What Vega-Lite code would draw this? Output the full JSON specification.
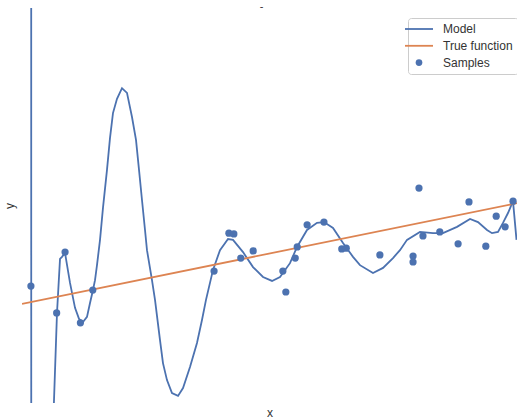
{
  "$schema": "https://vega.github.io/schema/vega-lite/v6.json",
  "width": 495,
  "height": 395,
  "autosize": "none",
  "padding": {"left": 22, "top": 8, "right": 0, "bottom": 16},
  "background": "white",
  "title": {"text": "-", "fontSize": 11, "font": "Liberation Sans", "fontWeight": "normal", "color": "#333", "offset": -4, "dx": -8},
  "config": {
    "view": {"stroke": null},
    "axis": {"domain": false, "ticks": false, "labels": false, "grid": false, "titleFont": "Liberation Sans", "titleFontSize": 12, "titleFontWeight": "normal", "titleColor": "#333"}
  },
  "datasets": {
    "model": [
      {"x": 0.0182, "y": 6.08, "series": "Model"},
      {"x": 0.0192, "y": -6.57, "series": "Model"},
      {"x": 0.0606, "y": -6.57, "series": "Model"},
      {"x": 0.0626, "y": -0.068, "series": "Model"},
      {"x": 0.0707, "y": 0.228, "series": "Model"},
      {"x": 0.0768, "y": 0.365, "series": "Model"},
      {"x": 0.0808, "y": 0.370, "series": "Model"},
      {"x": 0.0869, "y": 0.380, "series": "Model"},
      {"x": 0.0970, "y": 0.304, "series": "Model"},
      {"x": 0.1071, "y": 0.241, "series": "Model"},
      {"x": 0.1152, "y": 0.213, "series": "Model"},
      {"x": 0.1232, "y": 0.205, "series": "Model"},
      {"x": 0.1313, "y": 0.218, "series": "Model"},
      {"x": 0.1374, "y": 0.253, "series": "Model"},
      {"x": 0.1434, "y": 0.286, "series": "Model"},
      {"x": 0.1475, "y": 0.311, "series": "Model"},
      {"x": 0.1515, "y": 0.349, "series": "Model"},
      {"x": 0.1576, "y": 0.413, "series": "Model"},
      {"x": 0.1636, "y": 0.494, "series": "Model"},
      {"x": 0.1717, "y": 0.590, "series": "Model"},
      {"x": 0.1778, "y": 0.671, "series": "Model"},
      {"x": 0.1838, "y": 0.734, "series": "Model"},
      {"x": 0.1919, "y": 0.770, "series": "Model"},
      {"x": 0.2020, "y": 0.797, "series": "Model"},
      {"x": 0.2121, "y": 0.785, "series": "Model"},
      {"x": 0.2222, "y": 0.724, "series": "Model"},
      {"x": 0.2303, "y": 0.666, "series": "Model"},
      {"x": 0.2364, "y": 0.590, "series": "Model"},
      {"x": 0.2424, "y": 0.514, "series": "Model"},
      {"x": 0.2485, "y": 0.438, "series": "Model"},
      {"x": 0.2525, "y": 0.387, "series": "Model"},
      {"x": 0.2626, "y": 0.311, "series": "Model"},
      {"x": 0.2687, "y": 0.261, "series": "Model"},
      {"x": 0.2788, "y": 0.159, "series": "Model"},
      {"x": 0.2848, "y": 0.101, "series": "Model"},
      {"x": 0.2929, "y": 0.058, "series": "Model"},
      {"x": 0.3030, "y": 0.025, "series": "Model"},
      {"x": 0.3152, "y": 0.018, "series": "Model"},
      {"x": 0.3253, "y": 0.038, "series": "Model"},
      {"x": 0.3394, "y": 0.091, "series": "Model"},
      {"x": 0.3535, "y": 0.152, "series": "Model"},
      {"x": 0.3636, "y": 0.210, "series": "Model"},
      {"x": 0.3717, "y": 0.261, "series": "Model"},
      {"x": 0.3859, "y": 0.337, "series": "Model"},
      {"x": 0.4000, "y": 0.387, "series": "Model"},
      {"x": 0.4162, "y": 0.415, "series": "Model"},
      {"x": 0.4263, "y": 0.413, "series": "Model"},
      {"x": 0.4465, "y": 0.382, "series": "Model"},
      {"x": 0.4667, "y": 0.344, "series": "Model"},
      {"x": 0.4869, "y": 0.319, "series": "Model"},
      {"x": 0.5051, "y": 0.309, "series": "Model"},
      {"x": 0.5212, "y": 0.319, "series": "Model"},
      {"x": 0.5414, "y": 0.354, "series": "Model"},
      {"x": 0.5556, "y": 0.395, "series": "Model"},
      {"x": 0.5758, "y": 0.438, "series": "Model"},
      {"x": 0.5960, "y": 0.456, "series": "Model"},
      {"x": 0.6101, "y": 0.458, "series": "Model"},
      {"x": 0.6283, "y": 0.443, "series": "Model"},
      {"x": 0.6485, "y": 0.405, "series": "Model"},
      {"x": 0.6687, "y": 0.370, "series": "Model"},
      {"x": 0.6828, "y": 0.349, "series": "Model"},
      {"x": 0.7091, "y": 0.329, "series": "Model"},
      {"x": 0.7293, "y": 0.342, "series": "Model"},
      {"x": 0.7495, "y": 0.367, "series": "Model"},
      {"x": 0.7636, "y": 0.387, "series": "Model"},
      {"x": 0.7778, "y": 0.413, "series": "Model"},
      {"x": 0.8040, "y": 0.433, "series": "Model"},
      {"x": 0.8303, "y": 0.430, "series": "Model"},
      {"x": 0.8505, "y": 0.430, "series": "Model"},
      {"x": 0.8788, "y": 0.446, "series": "Model"},
      {"x": 0.9051, "y": 0.466, "series": "Model"},
      {"x": 0.9212, "y": 0.458, "series": "Model"},
      {"x": 0.9394, "y": 0.438, "series": "Model"},
      {"x": 0.9495, "y": 0.430, "series": "Model"},
      {"x": 0.9616, "y": 0.433, "series": "Model"},
      {"x": 0.9717, "y": 0.456, "series": "Model"},
      {"x": 0.9818, "y": 0.481, "series": "Model"},
      {"x": 0.9919, "y": 0.511, "series": "Model"},
      {"x": 0.9990, "y": 0.413, "series": "Model"}
    ],
    "truth": [
      {"x": 0.0, "y": 0.251, "series": "True function"},
      {"x": 1.0, "y": 0.506, "series": "True function"}
    ],
    "samples": [
      {"x": 0.018, "y": 0.296, "series": "Samples"},
      {"x": 0.070, "y": 0.228, "series": "Samples"},
      {"x": 0.087, "y": 0.382, "series": "Samples"},
      {"x": 0.118, "y": 0.203, "series": "Samples"},
      {"x": 0.143, "y": 0.286, "series": "Samples"},
      {"x": 0.388, "y": 0.334, "series": "Samples"},
      {"x": 0.418, "y": 0.430, "series": "Samples"},
      {"x": 0.428, "y": 0.428, "series": "Samples"},
      {"x": 0.442, "y": 0.367, "series": "Samples"},
      {"x": 0.467, "y": 0.385, "series": "Samples"},
      {"x": 0.527, "y": 0.334, "series": "Samples"},
      {"x": 0.533, "y": 0.281, "series": "Samples"},
      {"x": 0.552, "y": 0.367, "series": "Samples"},
      {"x": 0.556, "y": 0.395, "series": "Samples"},
      {"x": 0.576, "y": 0.451, "series": "Samples"},
      {"x": 0.610, "y": 0.458, "series": "Samples"},
      {"x": 0.646, "y": 0.390, "series": "Samples"},
      {"x": 0.655, "y": 0.392, "series": "Samples"},
      {"x": 0.723, "y": 0.375, "series": "Samples"},
      {"x": 0.790, "y": 0.372, "series": "Samples"},
      {"x": 0.790, "y": 0.357, "series": "Samples"},
      {"x": 0.802, "y": 0.544, "series": "Samples"},
      {"x": 0.810, "y": 0.423, "series": "Samples"},
      {"x": 0.844, "y": 0.433, "series": "Samples"},
      {"x": 0.881, "y": 0.403, "series": "Samples"},
      {"x": 0.903, "y": 0.509, "series": "Samples"},
      {"x": 0.937, "y": 0.397, "series": "Samples"},
      {"x": 0.958, "y": 0.473, "series": "Samples"},
      {"x": 0.976, "y": 0.446, "series": "Samples"},
      {"x": 0.992, "y": 0.511, "series": "Samples"}
    ]
  },
  "encoding": {
    "x": {"field": "x", "type": "quantitative", "scale": {"domain": [0, 1], "nice": false, "zero": false}, "axis": {"title": "x", "titlePadding": 4}},
    "y": {"field": "y", "type": "quantitative", "scale": {"domain": [0, 1], "nice": false, "zero": false}, "axis": {"title": "y", "titlePadding": 6}},
    "color": {
      "field": "series", "type": "nominal",
      "scale": {"domain": ["Model", "True function", "Samples"], "range": ["#4C72B0", "#DD8452", "#4C72B0"]},
      "legend": {
        "title": null,
        "orient": "none",
        "legendX": 386,
        "legendY": 10,
        "labelFont": "Liberation Sans",
        "labelFontSize": 12,
        "labelColor": "#333",
        "labelOffset": 18,
        "symbolSize": 196,
        "rowPadding": 4.8,
        "padding": 5,
        "strokeColor": "#cccccc",
        "fillColor": "rgba(255,255,255,0.8)",
        "cornerRadius": 3,
        "encode": {
          "symbols": {
            "update": {
              "shape": {"signal": "datum.value === 'Samples' ? 'circle' : 'M-2,0H2'"},
              "size": {"signal": "datum.value === 'Samples' ? 45 : 196"},
              "fill": {"signal": "datum.value === 'Samples' ? '#4C72B0' : 'transparent'"},
              "strokeWidth": {"signal": "datum.value === 'Samples' ? 0 : 1.8"},
              "opacity": {"value": 1}
            }
          }
        }
      }
    }
  },
  "layer": [
    {"data": {"name": "model"}, "mark": {"type": "line", "strokeWidth": 1.8, "clip": true}},
    {"data": {"name": "truth"}, "mark": {"type": "line", "strokeWidth": 1.8, "clip": true}},
    {"data": {"name": "samples"}, "mark": {"type": "point", "filled": true, "size": 52, "opacity": 1, "clip": true}}
  ]
}
